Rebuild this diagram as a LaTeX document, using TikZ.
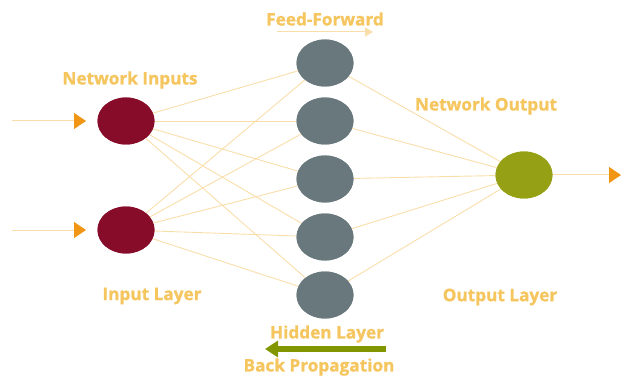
\documentclass[tikz,border=0pt]{standalone}
\usepackage{fontspec}
\setmainfont{Open Sans}[BoldFont={Open Sans Bold},BoldFeatures={FakeBold=1.2}]
\usetikzlibrary{arrows.meta,shapes.geometric}
\definecolor{inred}{RGB}{135,12,42}
\definecolor{hidgray}{RGB}{105,120,125}
\definecolor{outgreen}{RGB}{150,160,20}
\definecolor{linkc}{RGB}{250,222,170}
\definecolor{txtc}{RGB}{245,198,95}
\definecolor{tipc}{RGB}{240,150,20}
\definecolor{bpgreen}{RGB}{130,150,0}
\begin{document}
\begin{tikzpicture}[x=1pt,y=-1pt,
  neuron/.style={ellipse,minimum width=57pt,minimum height=47pt,inner sep=0pt,draw=none},
  link/.style={draw=linkc,line width=0.9pt},
  lbl/.style={text=txtc,font=\bfseries\fontsize{17.2}{20}\selectfont,inner sep=0pt},
  inarrow/.style={draw=linkc,line width=1pt,-{Triangle[width=16pt,length=12pt,fill=tipc,color=tipc]}}
]
\useasboundingbox (0,0) rectangle (624,377);
% nodes
\node[neuron,fill=inred] (i1) at (126,121) {};
\node[neuron,fill=inred] (i2) at (126,230) {};
\node[neuron,fill=hidgray] (h1) at (325,63) {};
\node[neuron,fill=hidgray] (h2) at (325,121) {};
\node[neuron,fill=hidgray] (h3) at (325,179) {};
\node[neuron,fill=hidgray] (h4) at (325,237) {};
\node[neuron,fill=hidgray] (h5) at (325,295) {};
\node[neuron,fill=outgreen] (o) at (524,175) {};
% links
\foreach \i in {i1,i2}{\foreach \h in {h1,h2,h3,h4,h5}{\draw[link] (\i) -- (\h);}}
\foreach \h in {h1,h2,h3,h4,h5}{\draw[link] (\h) -- (o);}
% redraw nodes on top
\node[neuron,fill=inred] at (i1) {};
\node[neuron,fill=inred] at (i2) {};
\foreach \h in {h1,h2,h3,h4,h5}{\node[neuron,fill=hidgray] at (\h) {};}
\node[neuron,fill=outgreen] at (o) {};
% input / output arrows
\coordinate (a1) at (12,121);
\coordinate (a2) at (12,230);
\coordinate (e1) at (86,121);
\coordinate (e2) at (86,230);
\coordinate (oe) at (621,175);
\draw[inarrow] (a1) -- (e1);
\draw[inarrow] (a2) -- (e2);
\draw[inarrow] (o) -- (oe);
% labels
\node[lbl] (ff) at (325,19) {Feed-Forward};
\coordinate (ffa) at (277,32);
\coordinate (ffb) at (373,32);
\draw[draw=linkc,line width=1pt,-{Triangle[width=9pt,length=8pt,fill=linkc]}] (ffa) -- (ffb);
\node[lbl] (ni) at (130,80) {Network Inputs};
\node[lbl] (no) at (486,106) {Network Output};
\node[lbl] (il) at (152,296) {Input Layer};
\node[lbl] (ol) at (500,297) {Output Layer};
\node[lbl] (hl) at (327,334) {Hidden Layer};
\node[lbl] (bp) at (319,367) {Back Propagation};
\coordinate (bpa) at (386,349);
\coordinate (bpb) at (265,349);
\draw[draw=bpgreen,line width=6pt,-{Triangle[width=16pt,length=13pt]}] (bpa) -- (bpb);
\end{tikzpicture}
\end{document}
